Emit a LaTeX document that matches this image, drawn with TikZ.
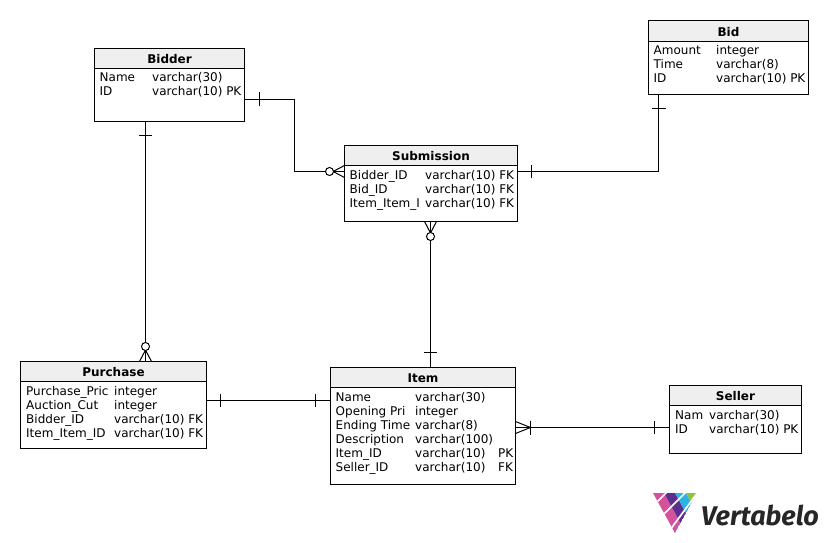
\documentclass[tikz,border=0pt]{standalone}
\usepackage{fontspec}
\setmainfont{DejaVu Sans}
\newfontfamily\logofont{Fira Sans}
\definecolor{hdr}{HTML}{EFEFEF}
\definecolor{lpink}{HTML}{D4529B}
\definecolor{lpurple}{HTML}{5E2D91}
\definecolor{lcyan}{HTML}{29B4E8}
\definecolor{lgreen}{HTML}{8CC43F}
\definecolor{ltext}{HTML}{262626}
\tikzset{
  box/.style={draw=black,line width=1pt,fill=white,inner sep=0pt,outer sep=0pt,anchor=north west},
  title/.style={inner sep=0pt,anchor=base,font=\fontsize{12}{14}\selectfont\bfseries},
  field/.style={inner sep=0pt,anchor=base west,yshift=0.7pt,font=\fontsize{12}{14}\selectfont},
  conn/.style={draw=black,line width=1pt},
  ring/.style={draw=black,fill=white,line width=1pt}
}
% name, x1, y1, x2, y2, yheader, title
\newcommand{\entity}[7]{%
  \pgfmathsetmacro{\ew}{#4-#2}\pgfmathsetmacro{\eh}{#5-#3}%
  \node[box,minimum width=\ew pt,minimum height=\eh pt] (#1) at (#2,#3) {};
  \fill[hdr] (#2,#3) rectangle (#4,#6);
  \draw[line width=1pt] (#2,#6) -- (#4,#6);
  \draw[line width=1pt] (#2,#3) rectangle (#4,#5);
  \node[title] (#1T) at ({(#2+#4)/2},#6-5) {#7};
}
\newcommand{\fld}[4]{\node[field] (#1) at (#2,#3) {#4};}
\begin{document}
\begin{tikzpicture}[x=1pt,y=-1pt]
\useasboundingbox (0,0) rectangle (828,543);
\fill[white] (0,0) rectangle (828,543);

\entity{bidder}{94.5}{48.5}{244.5}{121.5}{68.5}{Bidder}
\fld{b1}{99.5}{82.5}{Name}\fld{b1t}{152}{82.5}{varchar(30)}
\fld{b2}{99.5}{96.5}{ID}\fld{b2t}{152}{96.5}{varchar(10) PK}

\entity{bid}{648.5}{20.5}{808.5}{94.5}{41.5}{Bid}
\fld{d1}{653.5}{55.5}{Amount}\fld{d1t}{716}{55.5}{integer}
\fld{d2}{653.5}{69.5}{Time}\fld{d2t}{716}{69.5}{varchar(8)}
\fld{d3}{653.5}{83.5}{ID}\fld{d3t}{716}{83.5}{varchar(10) PK}

\entity{sub}{344.5}{145.5}{517.5}{221.5}{165.5}{Submission}
\fld{s1}{349.5}{180.5}{Bidder\_ID}\fld{s1t}{425}{180.5}{varchar(10) FK}
\fld{s2}{349.5}{194.5}{Bid\_ID}\fld{s2t}{425}{194.5}{varchar(10) FK}
\fld{s3}{349.5}{208.5}{Item\_Item\_I}\fld{s3t}{425}{208.5}{varchar(10) FK}

\entity{pur}{20.5}{361.5}{206.5}{448.5}{381.5}{Purchase}
\fld{p1}{26}{396.5}{Purchase\_Pric}\fld{p1t}{114}{396.5}{integer}
\fld{p2}{26}{410.5}{Auction\_Cut}\fld{p2t}{114}{410.5}{integer}
\fld{p3}{26}{424.5}{Bidder\_ID}\fld{p3t}{114}{424.5}{varchar(10) FK}
\fld{p4}{26}{438.5}{Item\_Item\_ID}\fld{p4t}{114}{438.5}{varchar(10) FK}

\entity{item}{330.5}{367.5}{515.5}{484.5}{387.5}{Item}
\fld{i1}{335.5}{402.5}{Name}\fld{i1t}{415}{402.5}{varchar(30)}
\fld{i2}{335.5}{416.5}{Opening Pri}\fld{i2t}{415}{416.5}{integer}
\fld{i3}{335.5}{430.5}{Ending Time}\fld{i3t}{415}{430.5}{varchar(8)}
\fld{i4}{335.5}{444.5}{Description}\fld{i4t}{415}{444.5}{varchar(100)}
\fld{i5}{335.5}{458.5}{Item\_ID}\fld{i5t}{415}{458.5}{varchar(10)}\fld{i5k}{498}{458.5}{PK}
\fld{i6}{335.5}{472.5}{Seller\_ID}\fld{i6t}{415}{472.5}{varchar(10)}\fld{i6k}{498}{472.5}{FK}

\entity{sel}{669.5}{385.5}{801.5}{453.5}{405.5}{Seller}
\fld{l1}{675}{420.5}{Nam}\fld{l1t}{709}{420.5}{varchar(30)}
\fld{l2}{675}{434.5}{ID}\fld{l2t}{709}{434.5}{varchar(10) PK}

% connectors
\coordinate (bidderE) at (244.5,99.5);
\coordinate (subW) at (344.5,171.5);
\coordinate (subE) at (517.5,171.5);
\coordinate (bidS) at (658.5,94.5);
\coordinate (bidderS) at (145.5,121.5);
\coordinate (purN) at (145.5,361.5);
\coordinate (subS) at (430.5,221.5);
\coordinate (itemN) at (430.5,367.5);
\coordinate (purE) at (206.5,400.5);
\coordinate (itemW) at (330.5,400.5);
\coordinate (itemE) at (515.5,427.5);
\coordinate (selW) at (669.5,427.5);

\draw[conn] (bidderE) -- (294.5,99.5) -- (294.5,171.5) -- (subW);
\draw[conn] (bidS) -- (658.5,171.5) -- (subE);
\draw[conn] (bidderS) -- (purN);
\draw[conn] (subS) -- (itemN);
\draw[conn] (purE) -- (itemW);
\draw[conn] (itemE) -- (selW);

% one-marks
\draw[conn] (259.5,92.5) -- (259.5,106.5);
\draw[conn] (652,108.5) -- (665.5,108.5);
\draw[conn] (531.5,165) -- (531.5,178);
\draw[conn] (139,135.5) -- (152,135.5);
\draw[conn] (424,352.5) -- (437,352.5);
\draw[conn] (220.5,394) -- (220.5,407);
\draw[conn] (315.5,394) -- (315.5,407);
\draw[conn] (530.5,420.5) -- (530.5,434.5);
\draw[conn] (654.5,421) -- (654.5,434);

% crow's feet with rings
\draw[conn] (333,171.5) -- (344.5,165.5) (333,171.5) -- (344.5,177.5);
\draw[ring] (329.5,171.5) circle (4);
\draw[conn] (430.5,233) -- (424.5,221.5) (430.5,233) -- (436.5,221.5);
\draw[ring] (430.5,236.5) circle (4);
\draw[conn] (145.5,350) -- (139.5,361.5) (145.5,350) -- (151.5,361.5);
\draw[ring] (145.5,346.5) circle (4);
\draw[conn] (530.5,427.5) -- (515.5,421.5) (530.5,427.5) -- (515.5,433.5);

% logo
\begin{scope}
\clip (653,493) -- (697,493) -- (675,533) -- cycle;
\foreach \col [count=\k from 0] in {lpink,lpurple,lcyan,lgreen}{
  \fill[\col] ({675+22*\k/4},{533-40*\k/4}) -- ({675+22*(\k+1)/4},{533-40*(\k+1)/4})
    -- ({675+22*(\k+1)/4-22},{533-40*(\k+1)/4-40}) -- ({675+22*\k/4-22},{533-40*\k/4-40}) -- cycle;
}
\draw[white,line width=1.7pt] (655,504) -- (667,492);
\draw[white,line width=1.7pt] (661,517) -- (686,492);
\draw[white,line width=1.7pt] (670,530) -- (698,492);
\end{scope}
\node[inner sep=0pt,anchor=base west,text=ltext,font=\logofont\fontsize{27}{30}\selectfont\bfseries\itshape] (logo) at (701,525) {Vertabelo};
\end{tikzpicture}
\end{document}
